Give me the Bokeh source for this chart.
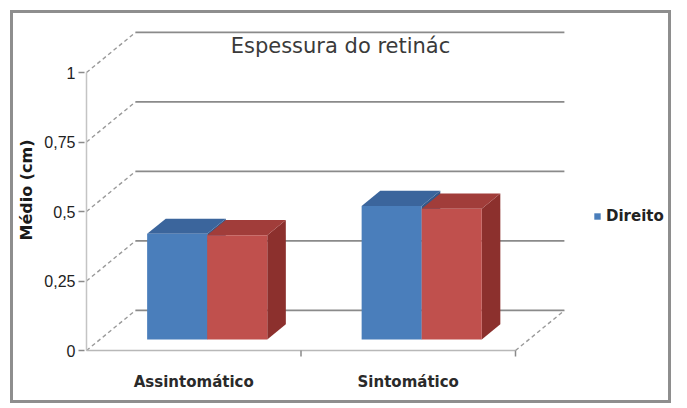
import numpy as np
from bokeh.plotting import figure
from bokeh.models import Range1d, FixedTicker, Legend, LegendItem, Label
from bokeh.embed import file_html
from bokeh.resources import INLINE

# ---- data -------------------------------------------------------------
categories = ["Assintomático", "Sintomático"]
direito = [0.38, 0.48]      # blue series
esquerdo = [0.375, 0.47]    # red series
y_ticks = [0, 0.25, 0.5, 0.75, 1]
y_tick_labels = ["0", "0,25", "0,5", "0,75", "1"]
chart_title = "Espessura do retinác"
y_title = "Médio (cm)"
legend_label = "Direito"

# ---- oblique 3-D projection settings -----------------------------------
PX_X = 214.5          # pixels per category unit
PX_Y = 278.0          # pixels per value unit
DX = 0.228            # depth shift of the back wall (category units)
DY = 0.144            # depth shift of the back wall (value units)
BAR_POS = 0.275       # fraction of the depth where bar fronts sit
BAR_DEPTH = 0.38      # bar depth as a fraction of the full depth
BAR_W = 0.28          # width of one bar (category units)
n_cat = len(categories)
centers = np.arange(n_cat) + 0.5

# ---- figure geometry: canvas sits inside a 3px CSS border, 10px from the page edge
OFF = 13
W, H = 661, 393
B_LEFT, B_RIGHT, B_TOP, B_BOTTOM = 84 - OFF, 1, 18 - OFF, 45
x0 = -2.0 / PX_X
y0 = -11.0 / PX_Y
frame_w = W - B_LEFT - B_RIGHT
frame_h = H - B_TOP - B_BOTTOM

p = figure(width=W, height=H, output_backend="svg", toolbar_location=None,
           x_range=Range1d(x0, x0 + frame_w / PX_X),
           y_range=Range1d(y0, y0 + frame_h / PX_Y),
           min_border_left=B_LEFT, min_border_right=B_RIGHT,
           min_border_top=B_TOP, min_border_bottom=B_BOTTOM)
p.margin = (10, 10, 8, 10)
p.styles = {"border": "3px solid #8e8e8e"}
p.outline_line_color = None
p.xgrid.visible = False
p.ygrid.visible = False
p.background_fill_color = "white"
p.border_fill_color = "white"

# ---- axes --------------------------------------------------------------
ya = p.yaxis[0]
ya.ticker = FixedTicker(ticks=y_ticks)
ya.major_label_overrides = {t: l for t, l in zip(y_ticks, y_tick_labels)}
ya.axis_line_color = None
ya.major_tick_out = 6
ya.major_tick_in = 0
ya.major_tick_line_color = "#8a8a8a"
ya.major_tick_line_width = 1.5
ya.minor_tick_line_color = None
ya.major_label_text_font = "Liberation Sans"
ya.major_label_text_font_size = "16px"
ya.major_label_text_color = "#222222"
ya.major_label_standoff = 3
ya.axis_label = y_title
ya.axis_label_text_font = "DejaVu Sans"
ya.axis_label_text_font_style = "bold"
ya.axis_label_text_font_size = "16px"
ya.axis_label_text_color = "#1a1a1a"
ya.axis_label_standoff = 5

xa = p.xaxis[0]
xa.ticker = FixedTicker(ticks=list(centers))
xa.major_label_overrides = {float(c): n for c, n in zip(centers, categories)}
xa.axis_line_color = None
xa.major_tick_line_color = None
xa.minor_tick_line_color = None
xa.major_label_text_font = "DejaVu Sans"
xa.major_label_text_font_style = "bold"
xa.major_label_text_font_size = "15px"
xa.major_label_text_color = "#2a2a2a"
xa.major_label_standoff = 5

# ---- walls, floor and gridlines ---------------------------------------
yt = np.array(y_ticks, dtype=float)
p.segment(x0=[DX] * len(yt), y0=yt + DY, x1=[n_cat + DX] * len(yt), y1=yt + DY,
          line_color="#8a8a8a", line_width=1.8)
p.segment(x0=[0] * len(yt), y0=yt, x1=[DX] * len(yt), y1=yt + DY,
          line_color="#9a9a9a", line_width=1.4, line_dash="4 3")
p.segment(x0=[n_cat], y0=[0], x1=[n_cat + DX], y1=[DY],
          line_color="#9a9a9a", line_width=1.4, line_dash="4 3")
p.segment(x0=[0], y0=[0], x1=[n_cat], y1=[0], line_color="#b8b8b8", line_width=1.5)
p.segment(x0=[0], y0=[0], x1=[0], y1=[yt.max()], line_color="#c4c4c4", line_width=1.5)
# small ticks on the floor edge at the category boundaries
bounds = np.arange(1, n_cat + 1)
p.segment(x0=bounds, y0=[0] * n_cat, x1=bounds, y1=[-6 / PX_Y] * n_cat,
          line_color="#8a8a8a", line_width=1.5)


# ---- 3-D bars ----------------------------------------------------------
def bar_faces(left, value):
    fx, fy = BAR_POS * DX, BAR_POS * DY
    bx, by = BAR_DEPTH * DX, BAR_DEPTH * DY
    xl, xr = left + fx, left + BAR_W + fx
    yb, yt_ = fy, value + fy
    front = ([xl, xr, xr, xl], [yb, yb, yt_, yt_])
    top = ([xl, xr, xr + bx, xl + bx], [yt_, yt_, yt_ + by, yt_ + by])
    side = ([xr, xr + bx, xr + bx, xr], [yb, yb + by, yt_ + by, yt_])
    return front, top, side


series = [
    (direito, -BAR_W, ("#4a7ebb", "#3b659c", "#33598a")),
    (esquerdo, 0.0, ("#c0504d", "#a13d3a", "#8c302d")),
]
legend_renderer = None
for values, shift, (c_front, c_top, c_side) in series:
    for c, v in zip(centers, values):
        front, top, side = bar_faces(c + shift, v)
        p.patch(*side, fill_color=c_side, line_color=None)
        p.patch(*top, fill_color=c_top, line_color=None)
        r = p.patch(*front, fill_color=c_front, line_color=None)
        if values is direito and legend_renderer is None:
            legend_renderer = r

# ---- title inside the plot area ----------------------------------------
title_x = x0 + (340 - 84) / PX_X
title_y = y0 + (361 - 45) / PX_Y
p.add_layout(Label(x=title_x, y=title_y, text=chart_title,
                   text_font="DejaVu Sans", text_font_size="21px",
                   text_color="#3a3a3a", text_align="center",
                   text_baseline="middle"))

# ---- legend ------------------------------------------------------------
legend = Legend(items=[LegendItem(label=legend_label, renderers=[legend_renderer])],
                location=(509, 136), orientation="vertical")
legend.glyph_width = 8
legend.glyph_height = 8
legend.label_standoff = 5
legend.padding = 0
legend.margin = 0
legend.border_line_color = None
legend.background_fill_alpha = 0
legend.label_text_font = "DejaVu Sans"
legend.label_text_font_style = "bold"
legend.label_text_font_size = "15px"
legend.label_text_color = "#222222"
p.add_layout(legend)

open("out.html", "w").write(file_html(p, INLINE))
